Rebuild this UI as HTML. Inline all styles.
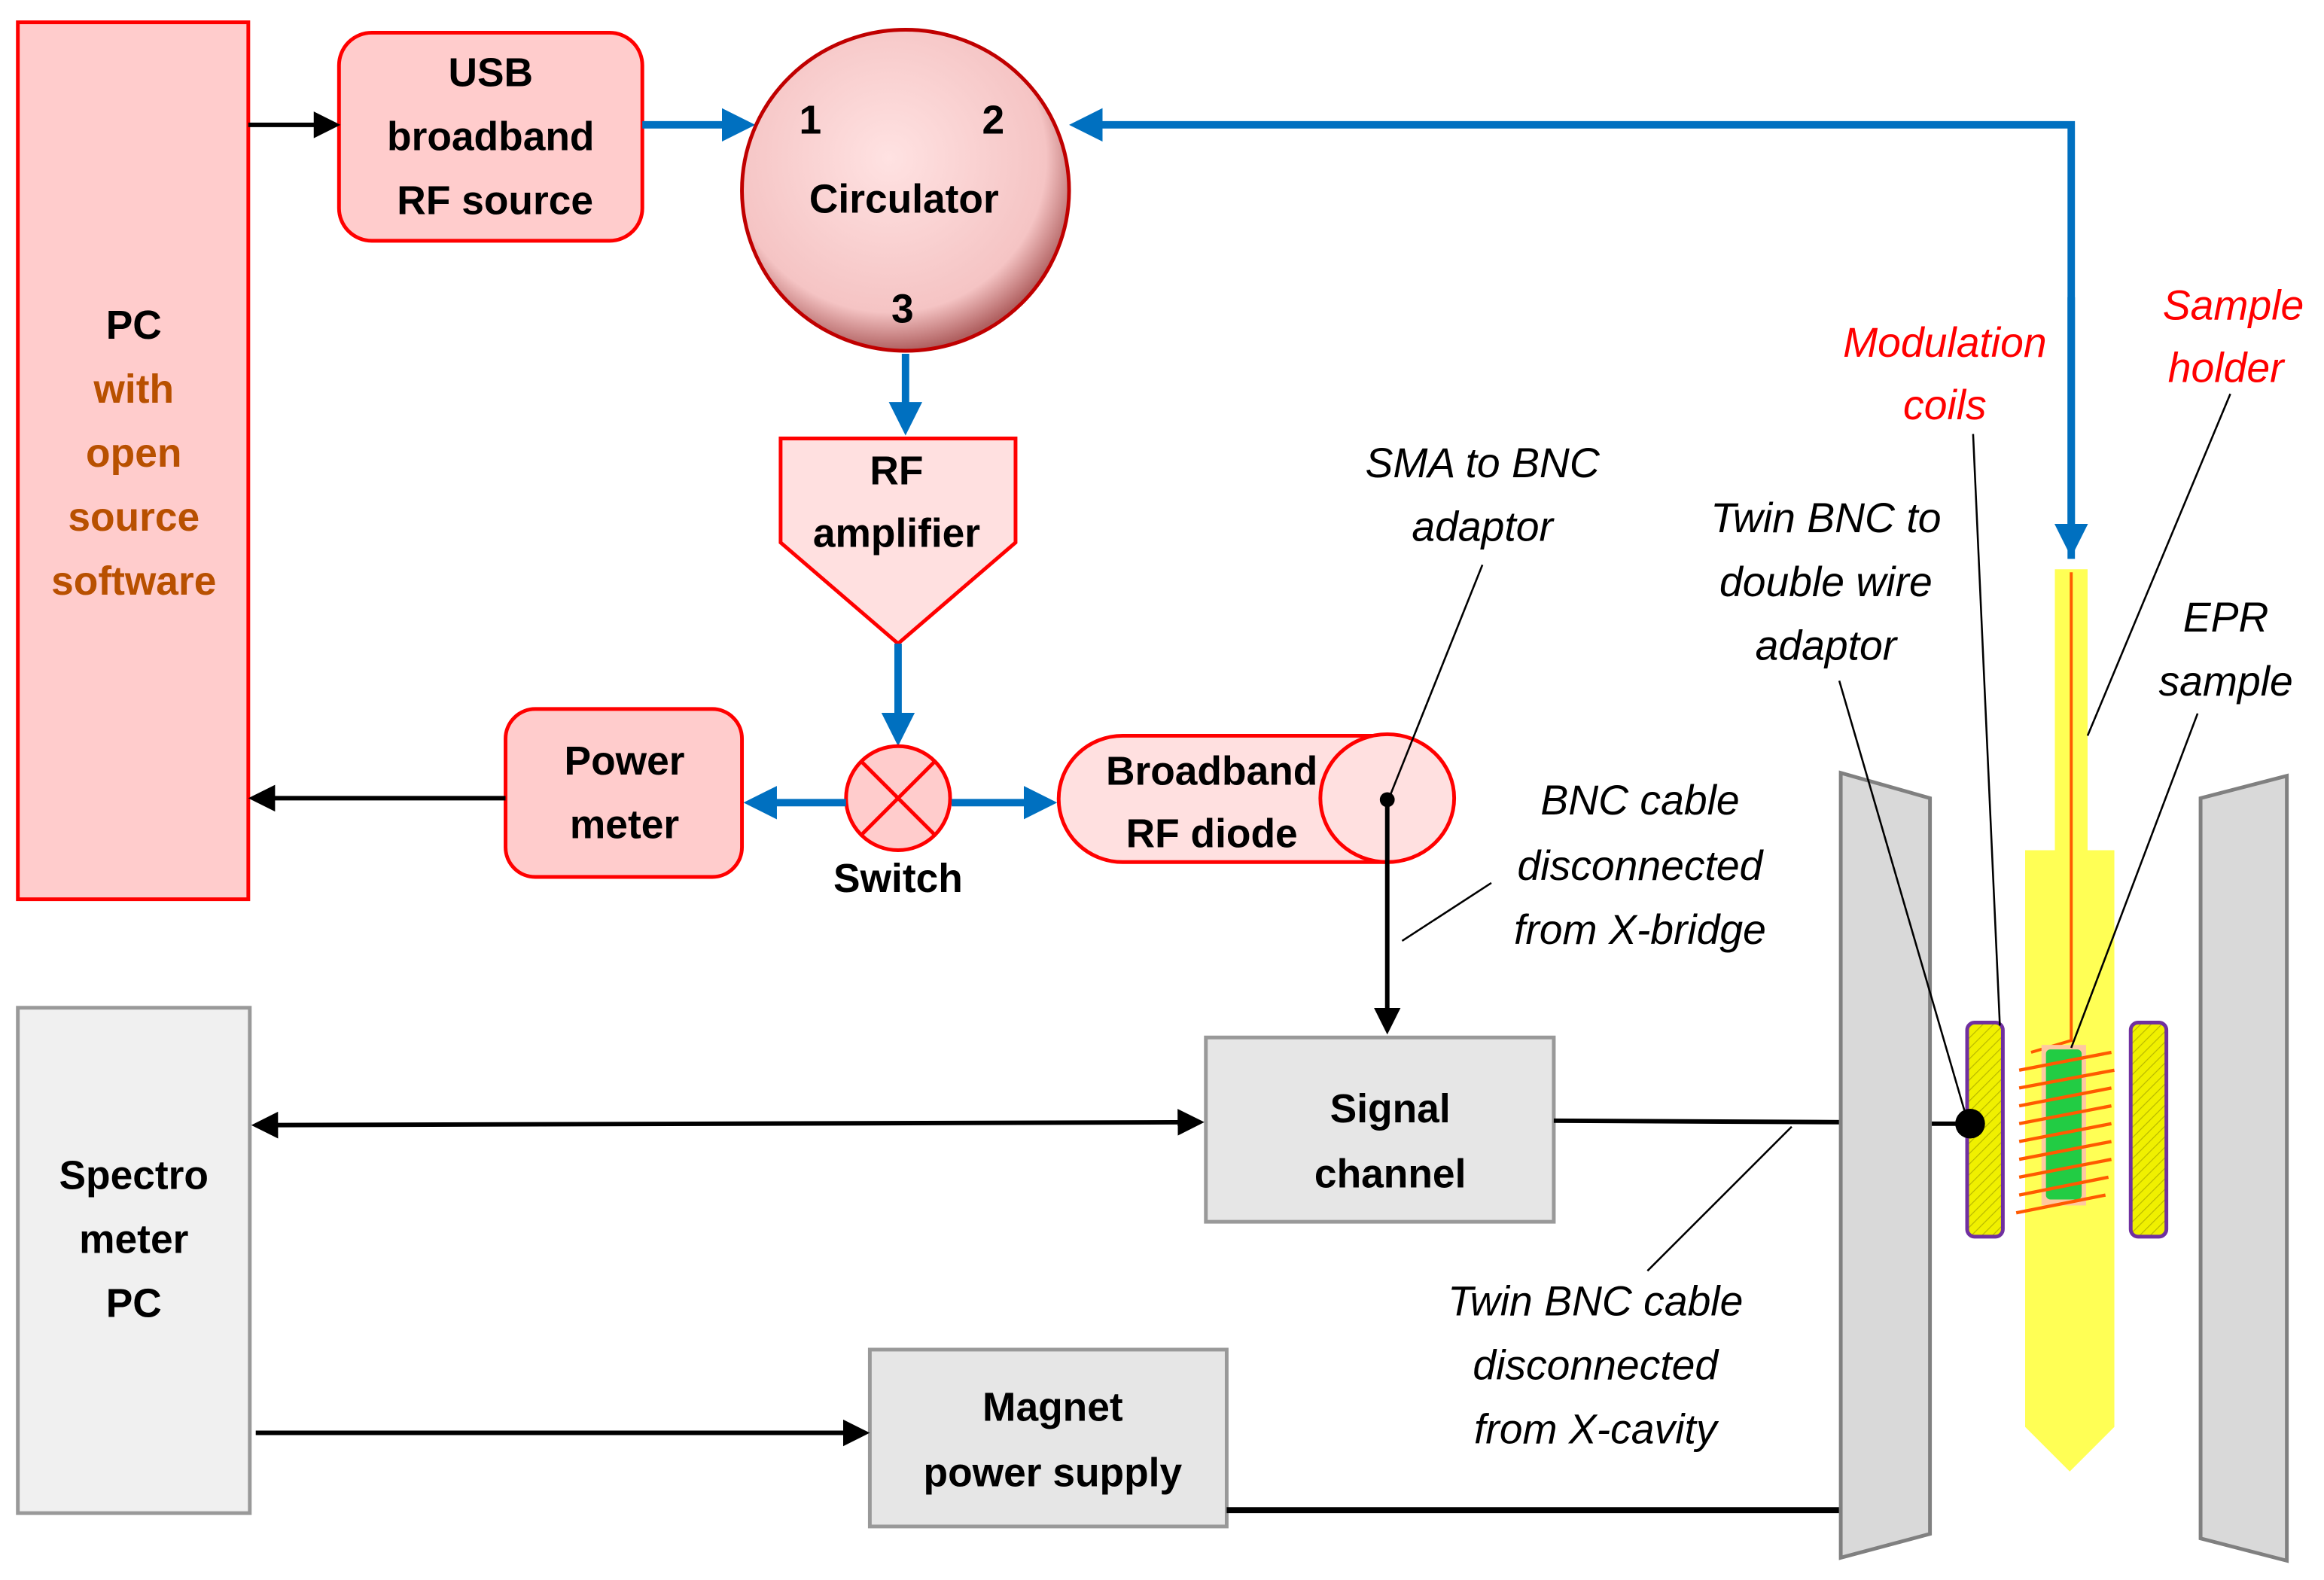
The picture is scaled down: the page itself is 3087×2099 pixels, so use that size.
<!DOCTYPE html>
<html><head><meta charset="utf-8"><style>
html,body{margin:0;padding:0;background:#fff;}
svg{display:block;}
text{font-family:"Liberation Sans",sans-serif;}
.b{font-weight:bold;font-size:27px;text-anchor:middle;fill:#000;}
.i{font-style:italic;font-size:28px;text-anchor:middle;fill:#000;}
.r{font-style:italic;font-size:28px;text-anchor:middle;fill:#f00;}
.o{font-weight:bold;font-size:27px;text-anchor:middle;fill:#b85000;}
</style></head><body>
<svg width="3087" height="2099" viewBox="0 0 1563 1063" preserveAspectRatio="none" xmlns="http://www.w3.org/2000/svg">
<defs>
<radialGradient id="cg" cx="0.45" cy="0.4" r="0.6">
<stop offset="0" stop-color="#ffe2e2"/><stop offset="0.8" stop-color="#f5c4c4"/><stop offset="1" stop-color="#b06060"/></radialGradient>
<pattern id="hatch" width="5" height="5" patternUnits="userSpaceOnUse" patternTransform="rotate(45)">
<rect width="5" height="5" fill="#f0f000"/><line x1="0" y1="0" x2="0" y2="5" stroke="#b8b800" stroke-width="1.2"/></pattern>
<marker id="ab" markerWidth="4.5" markerHeight="4.5" refX="3.5" refY="2.25" orient="auto" markerUnits="strokeWidth"><path d="M0,0 L4.5,2.25 L0,4.5 Z" fill="#0070c0"/></marker>
<marker id="ak" markerWidth="6" markerHeight="6" refX="5" refY="3" orient="auto" markerUnits="strokeWidth"><path d="M0,0 L6,3 L0,6 Z" fill="#000"/></marker>
<marker id="aks" markerWidth="6" markerHeight="6" refX="1" refY="3" orient="auto" markerUnits="strokeWidth"><path d="M6,0 L0,3 L6,6 Z" fill="#000"/></marker>
</defs>

<rect x="12" y="15" width="155" height="590" fill="#ffcccc" stroke="#f00" stroke-width="2.5"/>
<text class="b" x="90" y="228">PC</text>
<text class="o" x="90" y="271">with</text>
<text class="o" x="90" y="314">open</text>
<text class="o" x="90" y="357">source</text>
<text class="o" x="90" y="400">software</text>

<rect x="228" y="22" width="204" height="140" rx="22" fill="#ffcccc" stroke="#f00" stroke-width="2.5"/>
<text class="b" x="330" y="58">USB</text>
<text class="b" x="330" y="101">broadband</text>
<text class="b" x="333" y="144">RF source</text>
<line x1="167" y1="84" x2="226" y2="84" stroke="#000" stroke-width="3" marker-end="url(#ak)"/>
<line x1="432" y1="84" x2="503" y2="84" stroke="#0070c0" stroke-width="5" marker-end="url(#ab)"/>

<ellipse cx="609" cy="128" rx="110" ry="108" fill="url(#cg)" stroke="#c00000" stroke-width="2.5"/>
<text class="b" x="545" y="90">1</text>
<text class="b" x="668" y="90">2</text>
<text class="b" x="608" y="143">Circulator</text>
<text class="b" x="607" y="217">3</text>
<polyline points="1393,376 1393,84 724,84" fill="none" stroke="#0070c0" stroke-width="5" marker-end="url(#ab)"/>
<line x1="1393" y1="200" x2="1393" y2="370" stroke="#0070c0" stroke-width="5" marker-end="url(#ab)"/>
<line x1="609" y1="238" x2="609" y2="288" stroke="#0070c0" stroke-width="5" marker-end="url(#ab)"/>

<polygon points="525,295 683,295 683,365 604,433 525,365" fill="#ffe0e0" stroke="#f00" stroke-width="2.5"/>
<text class="b" x="603" y="326">RF</text>
<text class="b" x="603" y="368">amplifier</text>
<line x1="604" y1="433" x2="604" y2="497" stroke="#0070c0" stroke-width="5" marker-end="url(#ab)"/>

<circle cx="604" cy="537" r="35" fill="#ffcccc" stroke="#f00" stroke-width="2.5"/>
<line x1="580" y1="513" x2="628" y2="561" stroke="#f00" stroke-width="2.5"/>
<line x1="628" y1="513" x2="580" y2="561" stroke="#f00" stroke-width="2.5"/>
<text class="b" x="604" y="600">Switch</text>
<line x1="569" y1="540" x2="505" y2="540" stroke="#0070c0" stroke-width="5" marker-end="url(#ab)"/>
<line x1="640" y1="540" x2="706" y2="540" stroke="#0070c0" stroke-width="5" marker-end="url(#ab)"/>

<rect x="340" y="477" width="159" height="113" rx="20" fill="#ffcccc" stroke="#f00" stroke-width="2.5"/>
<text class="b" x="420" y="521">Power</text>
<text class="b" x="420" y="564">meter</text>
<line x1="340" y1="537" x2="170" y2="537" stroke="#000" stroke-width="3" marker-end="url(#ak)"/>

<path d="M755,495 L933,495 L933,580 L755,580 A43,42.5 0 0 1 755,495 Z" fill="#ffe0e0" stroke="#f00" stroke-width="2.5"/>
<ellipse cx="933" cy="537" rx="45" ry="43" fill="#ffe0e0" stroke="#f00" stroke-width="2.5"/>
<text class="b" x="815" y="528">Broadband</text>
<text class="b" x="815" y="570">RF diode</text>
<circle cx="933" cy="538" r="5" fill="#000"/>
<line x1="933" y1="538" x2="933" y2="693" stroke="#000" stroke-width="3" marker-end="url(#ak)"/>

<text class="i" x="997" y="321">SMA to BNC</text>
<text class="i" x="997" y="364">adaptor</text>
<line x1="997" y1="380" x2="935" y2="535" stroke="#000" stroke-width="1.3"/>

<text class="i" x="1103" y="548">BNC cable</text>
<text class="i" x="1103" y="592">disconnected</text>
<text class="i" x="1103" y="635">from X-bridge</text>
<line x1="1003" y1="594" x2="943" y2="633" stroke="#000" stroke-width="1.3"/>

<rect x="811" y="698" width="234" height="124" fill="#e6e6e6" stroke="#999" stroke-width="2.5"/>
<text class="b" x="935" y="755">Signal</text>
<text class="b" x="935" y="799">channel</text>

<rect x="12" y="678" width="156" height="340" fill="#f0f0f0" stroke="#999" stroke-width="2.5"/>
<text class="b" x="90" y="800">Spectro</text>
<text class="b" x="90" y="843">meter</text>
<text class="b" x="90" y="886">PC</text>
<line x1="172" y1="757" x2="807" y2="755" stroke="#000" stroke-width="3" marker-start="url(#aks)" marker-end="url(#ak)"/>

<rect x="585" y="908" width="240" height="119" fill="#e6e6e6" stroke="#999" stroke-width="2.5"/>
<text class="b" x="708" y="956">Magnet</text>
<text class="b" x="708" y="1000">power supply</text>
<line x1="172" y1="964" x2="582" y2="964" stroke="#000" stroke-width="3" marker-end="url(#ak)"/>
<line x1="825" y1="1016" x2="1240" y2="1016" stroke="#000" stroke-width="4"/>

<line x1="1045" y1="754" x2="1240" y2="755" stroke="#000" stroke-width="3"/>
<line x1="1298" y1="756" x2="1325" y2="756" stroke="#000" stroke-width="3"/>

<text class="i" x="1073" y="885">Twin BNC cable</text>
<text class="i" x="1073" y="928">disconnected</text>
<text class="i" x="1073" y="971">from X-cavity</text>
<line x1="1108" y1="855" x2="1205" y2="758" stroke="#000" stroke-width="1.3"/>

<polygon points="1238,520 1298,537 1298,1032 1238,1048" fill="#d9d9d9" stroke="#808080" stroke-width="2.5"/>
<polygon points="1480,537 1538,522 1538,1050 1480,1035" fill="#d9d9d9" stroke="#808080" stroke-width="2.5"/>

<polygon points="1382,383 1404,383 1404,572 1422,572 1422,960 1392,990 1362,960 1362,572 1382,572" fill="#ffff55"/>
<polyline points="1393,385 1393,700 1366,708" fill="none" stroke="#ff5a00" stroke-width="2"/>
<rect x="1373" y="703" width="30" height="108" fill="#ffc8a0"/>
<rect x="1376" y="706" width="24" height="101" rx="3" fill="#22cc44"/>
<g stroke="#ff5a00" stroke-width="2.2">
<line x1="1358" y1="720" x2="1420" y2="708"/>
<line x1="1358" y1="732" x2="1422" y2="720"/>
<line x1="1358" y1="744" x2="1420" y2="732"/>
<line x1="1358" y1="756" x2="1420" y2="744"/>
<line x1="1358" y1="768" x2="1420" y2="756"/>
<line x1="1358" y1="780" x2="1420" y2="768"/>
<line x1="1358" y1="792" x2="1420" y2="780"/>
<line x1="1358" y1="804" x2="1418" y2="792"/>
<line x1="1356" y1="816" x2="1416" y2="804"/>
</g>
<rect x="1323" y="688" width="24" height="144" rx="5" fill="url(#hatch)" stroke="#7030a0" stroke-width="2.5"/>
<rect x="1433" y="688" width="24" height="144" rx="5" fill="url(#hatch)" stroke="#7030a0" stroke-width="2.5"/>
<circle cx="1325" cy="756" r="10" fill="#000"/>

<text class="r" x="1308" y="240">Modulation</text>
<text class="r" x="1308" y="282">coils</text>
<line x1="1327" y1="292" x2="1345" y2="690" stroke="#000" stroke-width="1.3"/>
<text class="r" x="1502" y="215">Sample</text>
<text class="r" x="1497" y="257">holder</text>
<line x1="1500" y1="265" x2="1404" y2="495" stroke="#000" stroke-width="1.3"/>
<text class="i" x="1228" y="358">Twin BNC to</text>
<text class="i" x="1228" y="401">double wire</text>
<text class="i" x="1228" y="444">adaptor</text>
<line x1="1237" y1="458" x2="1322" y2="750" stroke="#000" stroke-width="1.3"/>
<text class="i" x="1497" y="425">EPR</text>
<text class="i" x="1497" y="468">sample</text>
<line x1="1478" y1="480" x2="1393" y2="705" stroke="#000" stroke-width="1.3"/>
</svg>
</body></html>
